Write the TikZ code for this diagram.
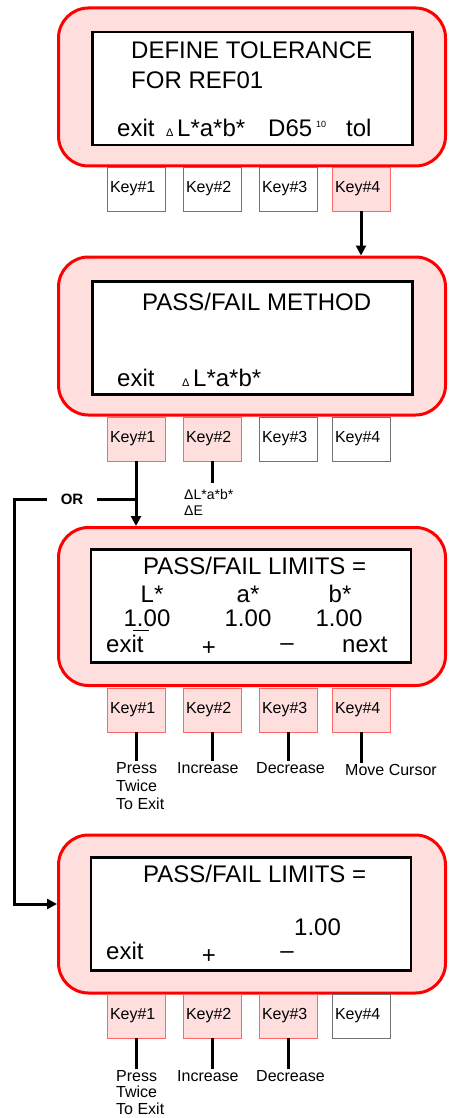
\documentclass[tikz,border=0pt]{standalone}
\usepackage{fontspec}
\setmainfont{Liberation Sans}
\usetikzlibrary{arrows.meta}

\colorlet{panelpink}{red!13}
\colorlet{keyred}{red!60}
\colorlet{keygray}{black!55}
\newcommand{\scrfont}{\fontsize{24}{28}\selectfont}
\newcommand{\keyfont}{\fontsize{16}{18}\selectfont}
\newcommand{\notefont}{\fontsize{14}{16}\selectfont}
\newcommand{\trifont}{\fontsize{11}{11}\selectfont}
\newcommand{\supfont}{\fontsize{9}{9}\selectfont}

\begin{document}
\begin{tikzpicture}[x=1pt,y=-1pt,
    panel/.style={draw=red, line width=3pt, fill=panelpink, rounded corners=30pt,
        minimum width=387pt, minimum height=158pt},
    screen/.style={draw=black, line width=2.5pt, fill=white,
        minimum width=320pt, minimum height=113pt},
    keybox/.style={line width=0.8pt, minimum width=58pt, minimum height=44pt,
        text width=52pt, inner xsep=3pt, inner ysep=0pt, align=left, font=\keyfont},
    txt/.style={anchor=base west, inner sep=0pt, font=\scrfont},
    ctxt/.style={anchor=base, inner sep=0pt, font=\scrfont},
    lab/.style={anchor=base west, inner sep=1pt, align=left, font=\keyfont},
    conn/.style={line width=3pt},
    arr/.style={conn, -{Triangle[length=10pt,width=10pt]}}]

    \useasboundingbox (0,0) rectangle (450,1118);

    % Screen 1: define tolerance
    \node[panel] (p1) at (252,87) {};
    \node[screen] (s1) at (252.5,88.5) {};
    \node[txt] (t11) at (131,59) {DEFINE TOLERANCE};
    \node[txt] (t12) at (131,89) {FOR REF01};
    \node[txt] (t13) at (117,137) {exit};
    \node[txt, font=\trifont] (t14) at (166,137) {Δ};
    \node[txt] (t15) at (177,137) {L*a*b*};
    \node[txt] (t16) at (268,137) {D65};
    \node[txt, font=\supfont] (t17) at (316,128) {10};
    \node[txt] (t18) at (346,137) {tol};

    % Keys under screen 1
    \foreach \i/\x/\f/\d in {1/136/white/keygray,2/212/white/keygray,
                             3/288/white/keygray,4/361/panelpink/keyred}
        \node[keybox, fill=\f, draw=\d] (ka\i) at (\x,189) {Key\#\i};

    % Screen 2: pass/fail method
    \node[panel] (p2) at (252,336) {};
    \node[screen] (s2) at (252.5,338) {};
    \node[txt] (t21) at (142,310) {PASS/FAIL METHOD};
    \node[txt] (t22) at (117,386) {exit};
    \node[txt, font=\trifont] (t23) at (182,386) {Δ};
    \node[txt] (t24) at (193,386) {L*a*b*};

    % Keys under screen 2
    \foreach \i/\x/\f/\d in {1/136/panelpink/keyred,2/212/panelpink/keyred,
                             3/288/white/keygray,4/361/white/keygray}
        \node[keybox, fill=\f, draw=\d] (kb\i) at (\x,439) {Key\#\i};

    % base anchor of a two-line node sits on its last line
    \node[lab, font=\notefont, inner ysep=6pt] (lb2) at (183,515) {ΔL*a*b*\\ΔE};
    \node[font=\bfseries\fontsize{15}{15}\selectfont, inner xsep=13.5pt] (or) at (72,499) {OR};
    \coordinate (orcorner) at (14,499);
    \coordinate (orbend) at (14,904);

    % Screen 3: pass/fail limits
    \node[panel] (p3) at (252,606.5) {};
    \node[screen] (s3) at (251,606) {};
    \node[txt] (t31) at (143,574) {PASS/FAIL LIMITS =};
    \node[ctxt] (t32) at (152,602) {L*};
    \node[ctxt] (t33) at (248,602) {a*};
    \node[ctxt] (t34) at (340,602) {b*};
    \node[ctxt] (t35) at (147,626) {1.00};
    \node[ctxt] (t36) at (248,626) {1.00};
    \node[ctxt] (t37) at (339,626) {1.00};
    \draw[line width=1pt] (133,630) -- (149,630);
    \node[txt] (t38) at (106,652) {exit};
    \node[ctxt] (t39) at (209,655) {+};
    \node[ctxt] (t3a) at (287,650) {–};
    \node[txt] (t3b) at (342,652) {next};

    % Keys under screen 3
    \foreach \i/\x in {1/136,2/212,3/288,4/361}
        \node[keybox, fill=panelpink, draw=keyred] (kc\i) at (\x,710) {Key\#\i};

    \node[lab] (lc1) at (115,809) {Press\\Twice\\To Exit};
    \node[lab] (lc2) at (176,773) {Increase};
    \node[lab] (lc3) at (255,773) {Decrease};
    \node[lab] (lc4) at (344,775) {Move Cursor};

    % Screen 4: pass/fail limits, single value
    \node[panel] (p4) at (252,914) {};
    \node[screen] (s4) at (251,914) {};
    \node[txt] (t41) at (143,882) {PASS/FAIL LIMITS =};
    \node[txt] (t42) at (294,935) {1.00};
    \node[txt] (t43) at (106,959) {exit};
    \node[ctxt] (t44) at (209,963) {+};
    \node[ctxt] (t45) at (287,958) {–};

    % Keys under screen 4
    \foreach \i/\x/\f/\d in {1/136/panelpink/keyred,2/212/panelpink/keyred,
                             3/288/panelpink/keyred,4/361/white/keygray}
        \node[keybox, fill=\f, draw=\d] (kd\i) at (\x,1016) {Key\#\i};

    \node[lab] (ld1) at (115,1114) {Press\\[-1.5pt]Twice\\[-1.5pt]To Exit};
    \node[lab] (ld2) at (176,1081) {Increase};
    \node[lab] (ld3) at (255,1081) {Decrease};

    % Connectors
    \draw[arr] (ka4.south) -- (ka4.south |- p2.north);
    \draw[conn] (kb2.south) -- (kb2.south |- lb2.north);
    \draw[arr] (kb1.south) -- (kb1.south |- p3.north);
    \draw[conn] (kb1.south |- or) -- (or.east);
    \draw[arr] (or.west) -- (orcorner) -- (orbend) -- (orbend -| p4.west);
    \foreach \i in {1,...,4}
        \draw[conn] (kc\i.south) -- (kc\i.south |- lc\i.north);
    \foreach \i in {1,2,3}
        \draw[conn] (kd\i.south) -- (kd\i.south |- ld\i.north);

\end{tikzpicture}
\end{document}
